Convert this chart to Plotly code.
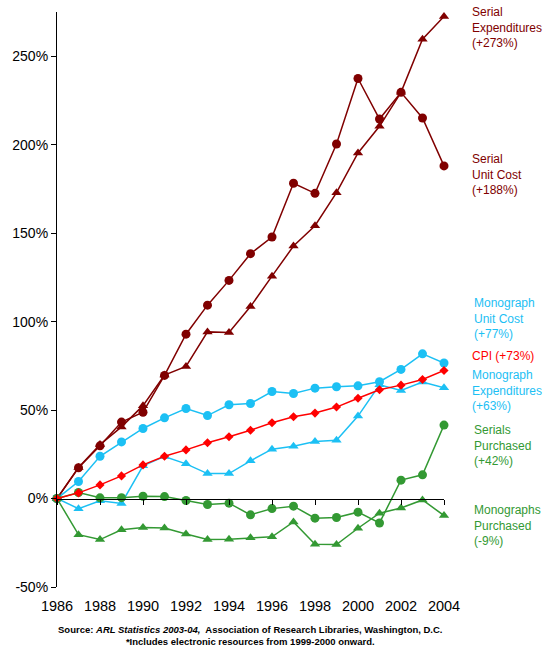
import plotly.graph_objects as go

# percent change since 1986
years = list(range(1986, 2005))

serial_exp = [0, 17.5, 30.5, 40.5, 52.5, 69.8, 74.7, 94.2, 93.8, 108.5, 125.7, 142.7, 154.2,
              172.9, 195.3, 210.4, 229.6, 259.6, 272.5]
serial_unit = [0, 17.4, 29.8, 43.2, 48.8, 69.6, 92.9, 109.3, 123.3, 138.4, 147.8, 178.2, 172.5,
               200.4, 237.4, 214.5, 229.6, 215.1, 188.0]
mono_unit = [0, 9.6, 23.9, 32.0, 39.6, 45.6, 50.9, 46.9, 53.0, 53.7, 60.5, 59.4, 62.4,
             63.2, 63.7, 66.0, 73.0, 81.8, 76.6]
cpi = [0, 3.2, 7.7, 12.8, 19.0, 23.9, 27.5, 31.5, 34.9, 38.6, 42.8, 46.2, 48.3,
       51.7, 56.7, 61.5, 64.1, 67.3, 72.4]
mono_exp = [0, -5.8, -1.3, -2.8, 18.5, 23.8, 19.6, 14.1, 14.1, 21.3, 27.9, 29.6, 32.2,
            33.0, 46.6, 64.3, 61.1, 65.8, 62.6]
serials_purch = [0, 3.4, 0.4, 0.5, 1.3, 1.1, -1.1, -3.4, -2.6, -9.2, -5.7, -4.3, -11.1,
                 -10.7, -7.7, -13.8, 10.4, 13.4, 41.5]
mono_purch = [0, -20.4, -23.2, -17.7, -16.4, -16.6, -20.0, -23.2, -23.0, -22.1, -21.6, -13.2, -25.8,
              -26.0, -16.8, -8.3, -5.3, -0.8, -9.6]

y_ticks = [-50, 0, 50, 100, 150, 200, 250]
y_labels = ["-50%", "0%", "50%", "100%", "150%", "200%", "250%"]

maroon = "#800000"
sky = "#1CC0F4"
red = "#FF0000"
green = "#339933"

series = [
    (serial_exp, maroon, "triangle-up", 9),
    (serial_unit, maroon, "circle", 9),
    (mono_exp, sky, "triangle-up", 9),
    (mono_unit, sky, "circle", 9),
    (serials_purch, green, "circle", 9),
    (mono_purch, green, "triangle-up", 9),
    (cpi, red, "diamond", 7),
]

fig = go.Figure()
for vals, col, sym, size in series:
    fig.add_trace(go.Scatter(x=years, y=vals, mode="lines+markers",
                             line=dict(color=col, width=1.5),
                             marker=dict(color=col, symbol=sym, size=size),
                             cliponaxis=False, showlegend=False, hoverinfo="skip"))

# invisible trace so the 0% axis line gets drawn
fig.add_trace(go.Scatter(x=[years[0]], y=[0], xaxis="x2", mode="markers",
                         marker=dict(opacity=0), showlegend=False, hoverinfo="skip"))

ymin, ymax = -50, 275

fig.update_layout(
    width=549, height=650,
    margin=dict(l=55, r=105, t=12, b=63),
    paper_bgcolor="white", plot_bgcolor="white",
    font=dict(family="Arial, Liberation Sans", size=14, color="black"),
    xaxis=dict(range=[1986, 2004], dtick=2, tick0=1986, showgrid=False, zeroline=False,
               showline=False, ticks="", ticklabelstandoff=8,
               tickfont=dict(size=14.5)),
    xaxis2=dict(range=[1986, 2004], dtick=2, tick0=1986, overlaying="x", anchor="free",
                position=(0 - ymin) / (ymax - ymin), showgrid=False, zeroline=False,
                showline=True, linecolor="black", linewidth=1.2, ticks="outside",
                ticklen=5, tickcolor="black", showticklabels=False),
    yaxis=dict(range=[ymin, ymax], tickvals=y_ticks, ticktext=y_labels, showgrid=False,
               zeroline=False, showline=True, linecolor="black", linewidth=1.2,
               ticks="outside", ticklen=5, tickcolor="black", tickfont=dict(size=14)),
)

labels = [
    ("Serial<br>Expenditures<br>(+273%)", maroon, 266.4, 26),
    ("Serial<br>Unit Cost<br>(+188%)", maroon, 183.3, 26),
    ("Monograph<br>Unit Cost<br>(+77%)", sky, 101.8, 28),
    ("CPI (+73%)", red, 80.3, 26),
    ("Monograph<br>Expenditures<br>(+63%)", sky, 61.1, 26),
    ("Serials<br>Purchased<br>(+42%)", green, 30.0, 28),
    ("Monographs<br>Purchased<br>(-9%)", green, -15.3, 28),
]
for text, col, yv, shift in labels:
    fig.add_annotation(x=1, xref="paper", y=yv, yref="y", xshift=shift,
                       xanchor="left", yanchor="middle", align="left", showarrow=False,
                       text=text, font=dict(size=12, color=col))

fig.add_annotation(
    x=(249 - 55) / (549 - 55 - 105), xref="paper", y=0, yref="paper",
    text="<b>Source: <i>ARL Statistics 2003-04,</i>&nbsp; Association of Research Libraries, Washington, D.C.</b>"
         "<br><b>*Includes electronic resources from 1999-2000 onward.</b>",
    showarrow=False, font=dict(size=9.5, color="black"), align="center",
    xanchor="center", yanchor="middle", yshift=-48)

fig.write_html("out.html", config={"displayModeBar": False},
               post_script="document.body.style.margin='0';")
